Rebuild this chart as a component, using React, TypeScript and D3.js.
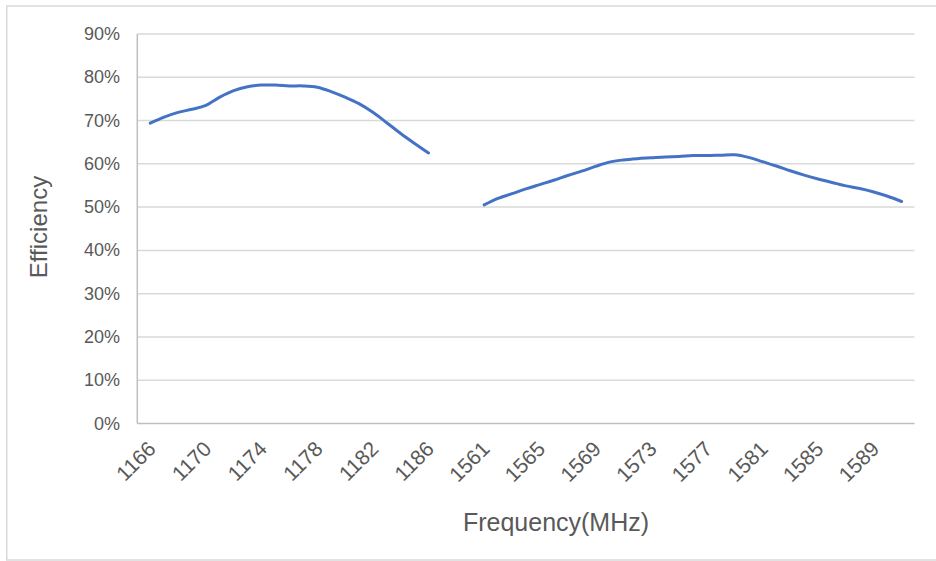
import React from "react";
import * as d3 from "d3";

const bandLow = ["1166","1167","1168","1169","1170","1171","1172","1173","1174","1175","1176","1177","1178","1179","1180","1181","1182","1183","1184","1185","1186"];
const valuesLow = [69.4,70.8,71.9,72.6,73.5,75.4,76.9,77.8,78.2,78.2,78.0,78.0,77.7,76.7,75.4,73.9,71.9,69.5,67.0,64.7,62.5];
const gapCats = ["1187","1188","1560"];
const bandHigh = ["1561","1562","1563","1564","1565","1566","1567","1568","1569","1570","1571","1572","1573","1574","1575","1576","1577","1578","1579","1580","1581","1582","1583","1584","1585","1586","1587","1588","1589","1590","1591"];
const valuesHigh = [50.5,52.0,53.1,54.2,55.2,56.2,57.3,58.3,59.4,60.4,60.9,61.2,61.4,61.6,61.7,61.9,61.9,62.0,62.1,61.5,60.5,59.5,58.4,57.4,56.5,55.7,54.9,54.3,53.5,52.5,51.3];
const yTicks = [0,10,20,30,40,50,60,70,80,90];

const categories = [...bandLow, ...gapCats, ...bandHigh];
const series: (number | null)[] = [...valuesLow, ...gapCats.map(() => null), ...valuesHigh];

const W = 936, H = 561;
const FONT = "'Liberation Sans', Arial, sans-serif";
const TXT = "#595959";

export default function App() {
  const x = d3.scalePoint<string>().domain(categories).range([137.3, 914.5]).padding(0.93);
  const y = d3.scaleLinear().domain([0, 90]).range([423.5, 34]);
  const data = categories.map((c, i) => ({ c, v: series[i] }));
  const line = d3.line<{ c: string; v: number | null }>()
    .defined(d => d.v != null)
    .x(d => x(d.c) as number)
    .y(d => y(d.v as number))
    .curve(d3.curveCardinal.tension(0));
  const path = line(data) || "";
  return (
    <svg width={W} height={H} style={{ position: "absolute", left: 0, top: 0, background: "#fff" }} fontFamily={FONT}>
      <rect x={6.75} y={6} width={960} height={554} fill="#fff" stroke="#d9d9d9" strokeWidth={1.5} />
      {yTicks.map(t => (
        <g key={t}>
          {t > 0 && <line x1={137.3} x2={914.5} y1={y(t)} y2={y(t)} stroke="#d9d9d9" strokeWidth={1.5} />}
          <text x={120} y={y(t)} textAnchor="end" dominantBaseline="central" fontSize={18} fill={TXT}>{t}%</text>
        </g>
      ))}
      <line x1={137.3} x2={137.3} y1={34} y2={423.5} stroke="#bfbfbf" strokeWidth={1.5} />
      <line x1={137.3} x2={914.5} y1={423.5} y2={423.5} stroke="#bfbfbf" strokeWidth={1.5} />
      {categories.map((c, i) => i % 4 === 0 ? (
        <text key={c} transform={`translate(${(x(c) as number) + 1.5},${445}) rotate(-45)`} textAnchor="end" dominantBaseline="central" fontSize={21} fill={TXT}>{c}</text>
      ) : null)}
      <path d={path} fill="none" stroke="#4472c4" strokeWidth={3} strokeLinecap="round" strokeLinejoin="round" />
      <text transform={`translate(38,227) rotate(-90)`} textAnchor="middle" dominantBaseline="central" fontSize={24} fill={TXT}>Efficiency</text>
      <text x={556} y={522} textAnchor="middle" dominantBaseline="central" fontSize={25} fill={TXT}>Frequency(MHz)</text>
    </svg>
  );
}
